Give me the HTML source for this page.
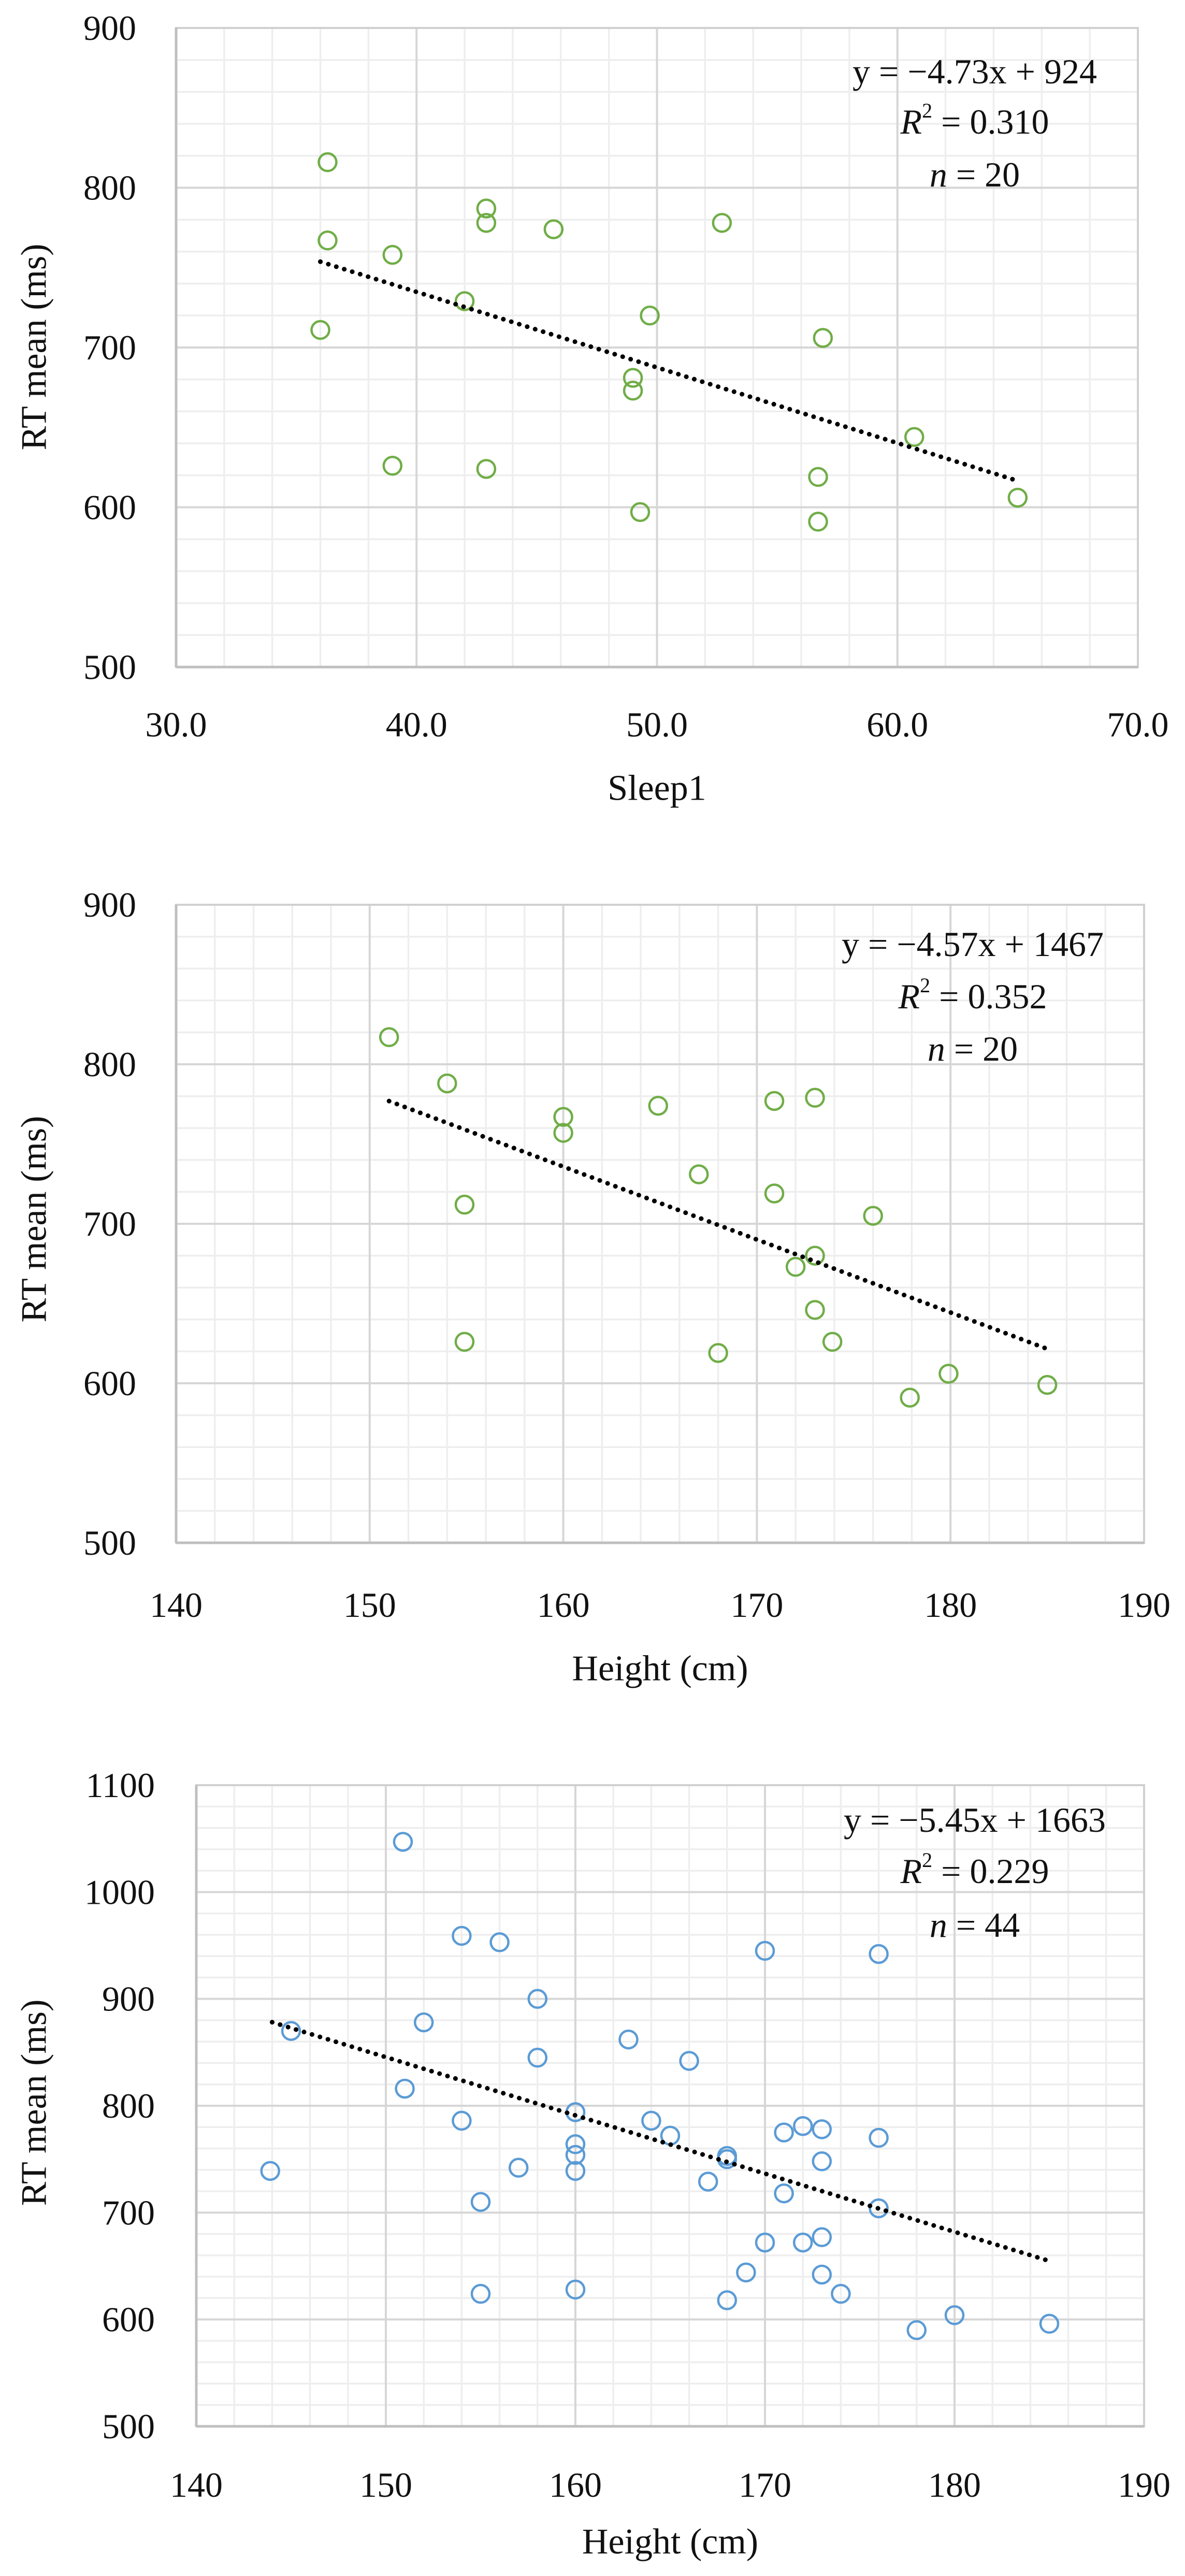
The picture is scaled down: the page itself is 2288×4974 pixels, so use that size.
<!DOCTYPE html>
<html><head><meta charset="utf-8"><style>
html,body{margin:0;padding:0;background:#fff;}
svg{display:block;}
text{font-family:"Liberation Serif",serif;fill:#111;}
</style></head><body>
<svg id="fig" width="2288" height="4974" viewBox="0 0 2288 4974" xmlns="http://www.w3.org/2000/svg"></svg>
<script>
// Chart 1: Sleep1 vs RT
const sleepX = [36.3,36.3,36.0,39.0,39.0,42.0,42.9,42.9,42.9,45.7,52.7,49.0,49.0,49.7,49.3,56.9,56.7,56.7,60.7,65.0];
const sleepRT = [816,767,711,758,626,729,787,778,624,774,778,681,673,720,597,706,619,591,644,606];
const sleepFit = [-4.73, 924];
const sleepFitRange = [36.0, 65.0];
const sleepXTicks = ["30.0","40.0","50.0","60.0","70.0"];
const sleepYTicks = ["500","600","700","800","900"];
const sleepAnno = ["y = \u22124.73x + 924","0.310","20"];

// Chart 2: Height vs RT (n=20)
const h20X = [151,154,160,160,164.9,167,170.9,173,170.9,154.9,176,173,172,173,154.9,168,173.9,177.9,179.9,185];
const h20RT = [817,788,767,757,774,731,777,779,719,712,705,680,673,646,626,619,626,591,606,599];
const h20Fit = [-4.57, 1467];
const h20FitRange = [151, 185];
const h20XTicks = ["140","150","160","170","180","190"];
const h20YTicks = ["500","600","700","800","900"];
const h20Anno = ["y = \u22124.57x + 1467","0.352","20"];

// Chart 3: Height vs RT (n=44)
const h44X = [150.9,154,156,158,152,145,162.8,158,166,151,154,160,164,165,160,160,160,157,143.9,155,168,168,167,171,172,173,173,176,171,176,170,176,170,172,173,173,169,160,155,168,174,178,180,185];
const h44RT = [1047,959,953,900,878,870,862,845,842,816,786,794,786,772,764,754,739,742,739,710,753,750,729,775,781,778,748,770,718,704,945,942,672,672,677,642,644,628,624,618,624,590,604,596];
const h44Fit = [-5.45, 1663];
const h44FitRange = [144, 185];
const h44XTicks = ["140","150","160","170","180","190"];
const h44YTicks = ["500","600","700","800","900","1000","1100"];
const h44Anno = ["y = \u22125.45x + 1663","0.229","44"];

const NS = "http://www.w3.org/2000/svg";
const fig = document.getElementById('fig');
function mk(tag, attrs, parent){
  const e = document.createElementNS(NS, tag);
  for (const k in attrs) e.setAttribute(k, attrs[k]);
  (parent||fig).appendChild(e);
  return e;
}

function drawChart(cfg){
  const g = mk('g', {});
  
  
  const xmin = parseFloat(cfg.xTicks[0]), xmax = parseFloat(cfg.xTicks[cfg.xTicks.length-1]);
  const ymin = parseFloat(cfg.yTicks[0]), ymax = parseFloat(cfg.yTicks[cfg.yTicks.length-1]);
  const sx = v => cfg.L + (v - xmin) / (xmax - xmin) * (cfg.R - cfg.L);
  const sy = v => cfg.B - (v - ymin) / (ymax - ymin) * (cfg.B - cfg.T);
  for (let v = xmin; v <= xmax + 1e-9; v += 2) {
    const l = mk('line', {x1:sx(v), x2:sx(v), y1:cfg.T, y2:cfg.B, stroke:'#eeeeee', 'stroke-width':3.5}, g);
    
    
  }
  for (let v = ymin; v <= ymax + 1e-9; v += 20) {
    const l = mk('line', {x1:cfg.L, x2:cfg.R, y1:sy(v), y2:sy(v), stroke:'#eeeeee', 'stroke-width':3.5}, g);
    
    
  }
  cfg.xTicks.forEach(t => {
    const v = parseFloat(t);
    const l = mk('line', {x1:sx(v), x2:sx(v), y1:cfg.T, y2:cfg.B, stroke:'#d6d6d6', 'stroke-width':4}, g);
    
    
    const tx = mk('text', {x:sx(v), y:cfg.xTickY, 'font-size':68, 'text-anchor':'middle', 'dominant-baseline':'central'}, g);
    tx.textContent = t;
    
    
  });
  cfg.yTicks.forEach(t => {
    const v = parseFloat(t);
    const l = mk('line', {x1:cfg.L, x2:cfg.R, y1:sy(v), y2:sy(v), stroke:'#d6d6d6', 'stroke-width':4}, g);
    
    
    const tx = mk('text', {x:cfg.yTickRight, y:sy(v), 'font-size':68, 'text-anchor':'end', 'dominant-baseline':'central'}, g);
    tx.textContent = t;
    
    
  });
  const fr = mk('rect', {x:cfg.L, y:cfg.T, width:cfg.R-cfg.L, height:cfg.B-cfg.T, fill:'none', stroke:'#d0d0d0', 'stroke-width':4}, g);
  
  
  const ax = mk('line', {x1:cfg.L, x2:cfg.R, y1:cfg.B, y2:cfg.B, stroke:'#bfbfbf', 'stroke-width':5}, g);
  
  
  const ay = mk('line', {x1:cfg.L, x2:cfg.L, y1:cfg.T, y2:cfg.B, stroke:'#bfbfbf', 'stroke-width':5}, g);
  
  
  cfg.xs.forEach((xv, i) => {
    const c = mk('circle', {cx:sx(xv), cy:sy(cfg.ys[i]), r:17, fill:'none', stroke:cfg.color, 'stroke-width':4.5}, g);
    
    
  });
  const f = v => cfg.fit[0]*v + cfg.fit[1];
  const tl = mk('line', {x1:sx(cfg.fitRange[0]), y1:sy(f(cfg.fitRange[0])), x2:sx(cfg.fitRange[1]), y2:sy(f(cfg.fitRange[1])), stroke:'#000', 'stroke-width':9, 'stroke-linecap':'round', 'stroke-dasharray':'0.1 16'}, g);
  
  
  const a1 = mk('text', {x:cfg.annoX, y:cfg.annoY[0], 'font-size':68, 'text-anchor':'middle', 'dominant-baseline':'central'}, g);
  a1.textContent = cfg.anno[0];
  
  
  const a2 = mk('text', {x:cfg.annoX, y:cfg.annoY[1], 'font-size':68, 'text-anchor':'middle', 'dominant-baseline':'central'}, g);
  a2.innerHTML = '<tspan font-style="italic">R</tspan><tspan font-size="40" dy="-22">2</tspan><tspan dy="22"> = ' + cfg.anno[1] + '</tspan>';
  
  
  const a3 = mk('text', {x:cfg.annoX, y:cfg.annoY[2], 'font-size':68, 'text-anchor':'middle', 'dominant-baseline':'central'}, g);
  a3.innerHTML = '<tspan font-style="italic">n</tspan> = ' + cfg.anno[2];
  
  
  const xt = mk('text', {x:(cfg.L+cfg.R)/2, y:cfg.xTitleY, 'font-size':70, 'text-anchor':'middle', 'dominant-baseline':'central'}, g);
  xt.textContent = cfg.xTitle;
  
  
  const yt = mk('text', {x:0, y:0, 'font-size':70, 'text-anchor':'middle', 'dominant-baseline':'central', transform:'translate(66,' + cfg.yTitleY + ') rotate(-90)'}, g);
  yt.textContent = 'RT mean (ms)';
  
  
}

drawChart({name:'chart-sleep1', L:340, R:2197, T:54, B:1288, xs:sleepX, ys:sleepRT, fit:sleepFit, fitRange:sleepFitRange,
  xTicks:sleepXTicks, yTicks:sleepYTicks, anno:sleepAnno, color:'#70AD47', xTickY:1399, yTickRight:263,
  annoX:1882, annoY:[138,235,337], xTitle:'Sleep1', xTitleY:1522, yTitleY:670});
drawChart({name:'chart-height-n20', L:340, R:2209, T:1747, B:2979, xs:h20X, ys:h20RT, fit:h20Fit, fitRange:h20FitRange,
  xTicks:h20XTicks, yTicks:h20YTicks, anno:h20Anno, color:'#70AD47', xTickY:3099, yTickRight:263,
  annoX:1878, annoY:[1823,1924,2025], xTitle:'Height (cm)', xTitleY:3222, yTitleY:2354});
drawChart({name:'chart-height-n44', L:379, R:2209, T:3447, B:4685, xs:h44X, ys:h44RT, fit:h44Fit, fitRange:h44FitRange,
  xTicks:h44XTicks, yTicks:h44YTicks, anno:h44Anno, color:'#5B9BD5', xTickY:4798, yTickRight:299,
  annoX:1882, annoY:[3514,3613,3717], xTitle:'Height (cm)', xTitleY:4908, yTitleY:4060});
</script>
</body></html>
